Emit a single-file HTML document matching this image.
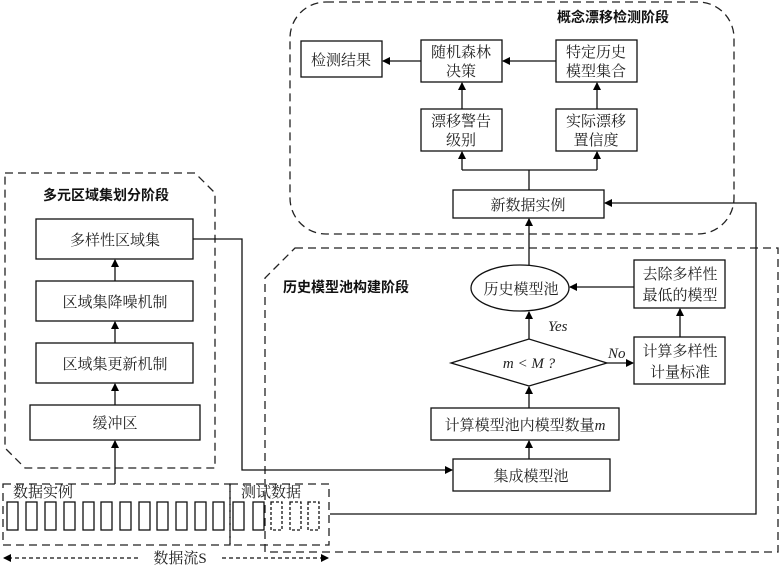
<!DOCTYPE html>
<html><head><meta charset="utf-8"><style>
html,body{margin:0;padding:0;background:#fff;}
svg{display:block;}
text{font-family:"Liberation Serif","Noto Serif CJK SC",serif;font-size:15px;fill:#222;}
.b{font-family:"Liberation Sans","Noto Sans CJK SC",sans-serif;font-weight:bold;font-size:14px;fill:#111;}
.i{font-style:italic;}
</style></head><body>
<svg width="780" height="574" viewBox="0 0 780 574" xmlns="http://www.w3.org/2000/svg">
<defs><marker id="a" markerWidth="8" markerHeight="8" refX="7" refY="4" orient="auto" markerUnits="userSpaceOnUse"><path d="M0,0 L8,4 L0,8 Z" fill="#000"/></marker></defs>
<g fill="none" stroke="#222" stroke-width="1.3" stroke-dasharray="8,5">
<path d="M5,173 H195 L215,193 V468 H25 L5,448 Z"/>
<path d="M295,248 H778 V552 H265 V278 Z"/>
<rect x="290" y="2" width="444" height="232" rx="36"/>
<rect x="3" y="484" width="227" height="61"/>
<rect x="230" y="484" width="99" height="61"/>
</g>
<text class="b" x="43" y="200">多元区域集划分阶段</text>
<text class="b" x="557" y="22">概念漂移检测阶段</text>
<text class="b" x="283" y="292">历史模型池构建阶段</text>
<g fill="#fff" stroke="#111" stroke-width="1.3">
<rect x="36" y="219" width="157" height="40"/>
<rect x="36" y="281" width="157" height="40"/>
<rect x="36" y="343" width="157" height="40"/>
<rect x="30" y="405" width="170" height="35"/>
<rect x="301" y="41" width="81" height="36"/>
<rect x="421" y="40" width="81" height="42"/>
<rect x="556" y="40" width="81" height="42"/>
<rect x="421" y="109" width="81" height="42"/>
<rect x="556" y="109" width="81" height="42"/>
<rect x="453" y="190" width="151" height="28"/>
<ellipse cx="520" cy="288" rx="49" ry="23"/>
<rect x="634" y="260" width="91" height="48"/>
<rect x="634" y="337" width="91" height="47"/>
<path d="M451,363 L529,339 L607,363 L529,386 Z"/>
<rect x="431" y="408" width="188" height="32"/>
<rect x="453" y="459" width="157" height="32"/>
</g>
<g fill="none" stroke="#111" stroke-width="1.3">
<rect x="7" y="502" width="11" height="28"/><rect x="26" y="502" width="11" height="28"/><rect x="45" y="502" width="11" height="28"/><rect x="64" y="502" width="11" height="28"/><rect x="83" y="502" width="11" height="28"/><rect x="101" y="502" width="11" height="28"/><rect x="120" y="502" width="11" height="28"/><rect x="139" y="502" width="11" height="28"/><rect x="157" y="502" width="11" height="28"/><rect x="176" y="502" width="11" height="28"/><rect x="195" y="502" width="11" height="28"/><rect x="213" y="502" width="11" height="28"/><rect x="233" y="502" width="11" height="28"/><rect x="253" y="502" width="11" height="28"/>
<g stroke-dasharray="3,2"><rect x="271" y="502" width="11" height="28"/><rect x="290" y="502" width="11" height="28"/><rect x="308" y="502" width="11" height="28"/></g>
<path d="M115,484 V441" marker-end="url(#a)"/>
<path d="M115,405 V384" marker-end="url(#a)"/>
<path d="M115,343 V322" marker-end="url(#a)"/>
<path d="M115,281 V260" marker-end="url(#a)"/>
<path d="M193,239 H242 V470 H452" marker-end="url(#a)"/>
<path d="M529,459 V441" marker-end="url(#a)"/>
<path d="M529,408 V387" marker-end="url(#a)"/>
<path d="M529,339 V312" marker-end="url(#a)"/>
<path d="M607,363 H633" marker-end="url(#a)"/>
<path d="M680,337 V309" marker-end="url(#a)"/>
<path d="M634,287 H570" marker-end="url(#a)"/>
<path d="M529,265 V219" marker-end="url(#a)"/>
<path d="M529,190 V170 M462,170 H597"/>
<path d="M462,170 V152" marker-end="url(#a)"/>
<path d="M597,170 V152" marker-end="url(#a)"/>
<path d="M462,109 V83" marker-end="url(#a)"/>
<path d="M597,109 V83" marker-end="url(#a)"/>
<path d="M556,61 H503" marker-end="url(#a)"/>
<path d="M421,61 H383" marker-end="url(#a)"/>
<path d="M330,514 H756 V203 H605" marker-end="url(#a)"/>
<path d="M138,558 H4" stroke-dasharray="4,3" marker-end="url(#a)"/>
<path d="M222,558 H328" stroke-dasharray="4,3" marker-end="url(#a)"/>
</g>
<g text-anchor="middle">
<text x="115" y="245">多样性区域集</text>
<text x="115" y="307">区域集降噪机制</text>
<text x="115" y="369">区域集更新机制</text>
<text x="115" y="428">缓冲区</text>
<text x="341" y="65">检测结果</text>
<text x="461" y="57">随机森林</text><text x="461" y="76">决策</text>
<text x="596" y="57">特定历史</text><text x="596" y="76">模型集合</text>
<text x="461" y="126">漂移警告</text><text x="461" y="145">级别</text>
<text x="596" y="126">实际漂移</text><text x="596" y="145">置信度</text>
<text x="528" y="210">新数据实例</text>
<text x="521" y="294">历史模型池</text>
<text x="680" y="279">去除多样性</text><text x="680" y="300">最低的模型</text>
<text x="680" y="356">计算多样性</text><text x="680" y="377">计量标准</text>
<text x="529" y="368" class="i">m &lt; M ?</text>
<text x="525" y="430">计算模型池内模型数量<tspan class="i">m</tspan></text>
<text x="531" y="481">集成模型池</text>
<text x="180" y="563">数据流S</text>
</g>
<text x="548" y="331" class="i">Yes</text>
<text x="608" y="358" class="i">No</text>
<text x="13" y="497">数据实例</text>
<text x="241" y="497">测试数据</text>
</svg>
</body></html>
